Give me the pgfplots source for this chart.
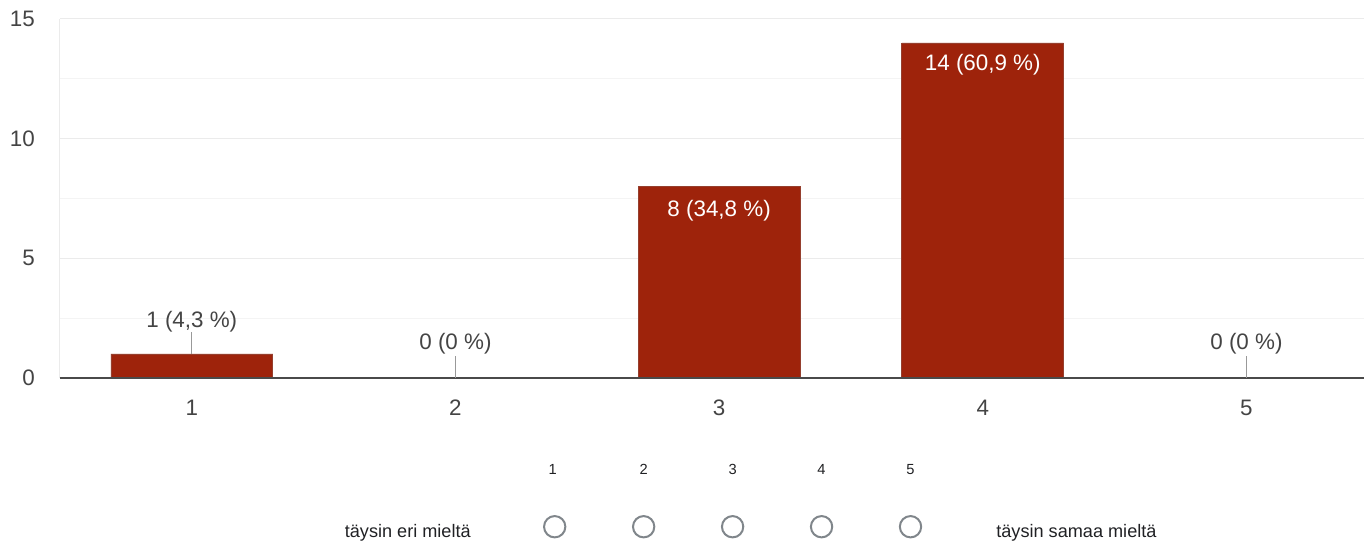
\documentclass[border=0pt]{standalone}
\usepackage{fontspec}
\setmainfont{Liberation Sans}
\usepackage{pgfplots}
\pgfplotsset{compat=1.18}
\definecolor{barred}{HTML}{9E230B}
\definecolor{txt}{HTML}{444444}
\definecolor{dark}{HTML}{202124}
\definecolor{majgrid}{HTML}{EBEBEB}
\definecolor{mingrid}{HTML}{F4F4F4}
\definecolor{zeroline}{HTML}{4A4A4A}
\definecolor{leader}{HTML}{999999}
\definecolor{circ}{HTML}{80868B}
\begin{document}
\begin{tikzpicture}
\begin{scope}[x=0.75pt,y=-0.75pt]
\useasboundingbox (0,0) rectangle (1365,543);
\end{scope}
\begin{axis}[
  at={(45pt,-283.5pt)}, anchor=south west,
  scale only axis, width=978.75pt, height=269.25pt,
  xmin=0.5, xmax=5.447, ymin=0, ymax=15,
  axis line style={draw=none},
  major tick length=0pt, minor tick length=0pt,
  ytick={0,5,10,15}, minor ytick={2.5,7.5,12.5},
  ymajorgrids, yminorgrids,
  major grid style={majgrid, line width=0.75pt},
  minor grid style={mingrid, line width=0.75pt},
  xtick={1,2,3,4,5},
  tick label style={font=\fontsize{16.8}{20}\selectfont, text=txt},
  /pgf/number format/assume math mode=true,
  yticklabel style={anchor=east, inner sep=0pt, xshift=-18.75pt},
  xticklabel style={anchor=north, inner sep=0pt, yshift=-16.5pt},
  ybar, bar width=121.5pt,
  clip=false,
]
\addplot[fill=barred, draw=barred!70!gray, line width=0.5pt] coordinates {(1,1) (2,0) (3,8) (4,14) (5,0)};
\draw[majgrid, line width=0.75pt] (rel axis cs:0,0) -- (rel axis cs:0,1);
\draw[zeroline, line width=1.1pt] (rel axis cs:0,0) -- (rel axis cs:1,0);
% outside labels with leaders
\draw[leader, line width=0.8pt] (axis cs:1,1) -- ++(0pt,16.5pt);
\draw[leader, line width=0.8pt] (axis cs:2,0) -- ++(0pt,16.5pt);
\draw[leader, line width=0.8pt] (axis cs:5,0) -- ++(0pt,16.5pt);
\node[text=txt, font=\fontsize{16.8}{20}\selectfont, inner sep=0pt] at ([yshift=24pt]axis cs:1,1) {1 (4,3 \%)};
\node[text=txt, font=\fontsize{16.8}{20}\selectfont, inner sep=0pt] at ([yshift=25.5pt]axis cs:2,0) {0 (0 \%)};
\node[text=txt, font=\fontsize{16.8}{20}\selectfont, inner sep=0pt] at ([yshift=25.5pt]axis cs:5,0) {0 (0 \%)};
% inside labels
\node[text=white, font=\fontsize{16.8}{20}\selectfont, inner sep=0pt] at ([yshift=-18pt]axis cs:3,8) {8 (34,8 \%)};
\node[text=white, font=\fontsize{16.8}{20}\selectfont, inner sep=0pt] at ([yshift=-16pt]axis cs:4,14) {14 (60,9 \%)};
\end{axis}
\begin{scope}[x=0.75pt,y=-0.75pt]
\foreach \n/\xx in {1/553,2/644,3/733,4/822,5/911} {
  \node[text=dark, font=\fontsize{11}{13}\selectfont, inner sep=0pt] at (\xx,470) {\n};
}
\foreach \xx in {555,644,733,822,911} {
  \draw[circ, line width=1.5pt] (\xx,527) circle[radius=8pt];
}
\node[text=dark, font=\fontsize{13.6}{16}\selectfont, inner sep=0pt] at (408,533) {täysin eri mieltä};
\node[text=dark, font=\fontsize{13.6}{16}\selectfont, inner sep=0pt] at (1077,533) {täysin samaa mieltä};
\end{scope}
\end{tikzpicture}
\end{document}
